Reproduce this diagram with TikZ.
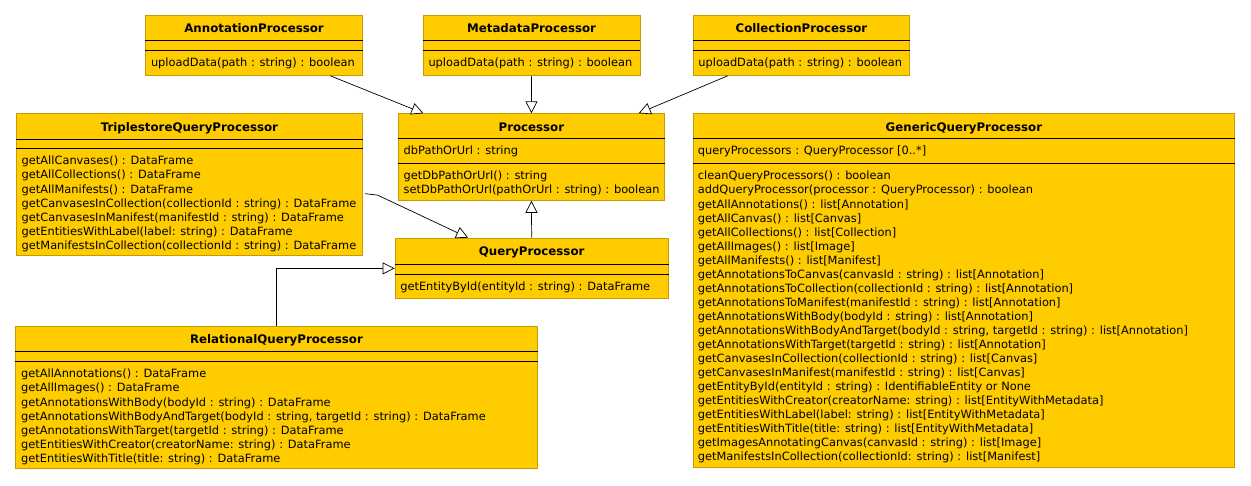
\documentclass[tikz,border=0pt]{standalone}
\usepackage{fontspec}
\setmainfont{DejaVu Sans}
\usetikzlibrary{arrows.meta,calc}
\definecolor{umlfill}{RGB}{255,204,0}
\definecolor{umledge}{RGB}{196,156,0}
\newcommand\umlsep[2]{\draw[sepline] ($(#1.north west)+(0,#2)$) -- ($(#1.north east)+(0,#2)$);}
\begin{document}
\begin{tikzpicture}[x=1pt,y=-1pt,
  cls/.style={draw=umledge, fill=umlfill, line width=0.8pt, inner sep=0pt, anchor=north west},
  sepline/.style={black, line width=0.8pt},
  ttl/.style={font=\fontsize{11.8}{14}\selectfont\bfseries, inner sep=0pt, anchor=base},
  txt/.style={font=\fontsize{11.4}{14.05}\selectfont, inner sep=0pt, anchor=north west, align=left},
  genarrow/.style={draw=black, line width=0.7pt, -{Triangle[fill=white,length=12pt,width=12pt]}}
]
\useasboundingbox[fill=white] (0,0) rectangle (1251,485);

% boxes
\node[cls, minimum width=216.7pt, minimum height=60pt] (ann) at (145.3,15) {};
\node[cls, minimum width=216.8pt, minimum height=60pt] (meta) at (422.8,15) {};
\node[cls, minimum width=216.6pt, minimum height=60pt] (coll) at (692.7,15) {};
\node[cls, minimum width=266pt, minimum height=86.7pt] (proc) at (398,113.3) {};
\node[cls, minimum width=346pt, minimum height=141.7pt] (trip) at (16,113.3) {};
\node[cls, minimum width=273.4pt, minimum height=60.6pt] (qp) at (394.6,237.7) {};
\node[cls, minimum width=521.4pt, minimum height=142.3pt] (rel) at (15.4,326) {};
\node[cls, minimum width=541.6pt, minimum height=353.4pt] (gen) at (692.7,113.3) {};

% separators
\umlsep{ann}{25.5}\umlsep{ann}{35}
\umlsep{meta}{25.5}\umlsep{meta}{35}
\umlsep{coll}{25.5}\umlsep{coll}{35}
\umlsep{proc}{25}\umlsep{proc}{50}
\umlsep{trip}{25.7}\umlsep{trip}{35}
\umlsep{qp}{26.5}\umlsep{qp}{36.3}
\umlsep{rel}{25.7}\umlsep{rel}{35.7}
\umlsep{gen}{25}\umlsep{gen}{50}

% titles
\node[ttl] (ann-t) at ($(ann.north)+(0,17.7)$) {AnnotationProcessor};
\node[ttl] (meta-t) at ($(meta.north)+(0,17.7)$) {MetadataProcessor};
\node[ttl] (coll-t) at ($(coll.north)+(0,17.7)$) {CollectionProcessor};
\node[ttl] (proc-t) at ($(proc.north)+(0,17.7)$) {Processor};
\node[ttl] (trip-t) at ($(trip.north)+(0,17.7)$) {TriplestoreQueryProcessor};
\node[ttl] (qp-t) at ($(qp.north)+(0,18.2)$) {QueryProcessor};
\node[ttl] (rel-t) at ($(rel.north)+(0,17.7)$) {RelationalQueryProcessor};
\node[ttl] (gen-t) at ($(gen.north)+(0,17.7)$) {GenericQueryProcessor};

% members
\node[txt] (ann-m) at ($(ann.north west)+(5.5,41.9)$) {\strut uploadData(path : string) : boolean};
\node[txt] (meta-m) at ($(meta.north west)+(5.5,41.9)$) {\strut uploadData(path : string) : boolean};
\node[txt] (coll-m) at ($(coll.north west)+(5.5,41.9)$) {\strut uploadData(path : string) : boolean};
\node[txt] (proc-a) at ($(proc.north west)+(5.5,31.6)$) {\strut dbPathOrUrl : string};
\node[txt] (proc-m) at ($(proc.north west)+(5.5,56.3)$) {\strut getDbPathOrUrl() : string\\
\strut setDbPathOrUrl(pathOrUrl : string) : boolean};
\node[txt] (trip-m) at ($(trip.north west)+(5.5,41.6)$) {\strut getAllCanvases() : DataFrame\\
\strut getAllCollections() : DataFrame\\
\strut getAllManifests() : DataFrame\\
\strut getCanvasesInCollection(collectionId : string) : DataFrame\\
\strut getCanvasesInManifest(manifestId : string) : DataFrame\\
\strut getEntitiesWithLabel(label: string) : DataFrame\\
\strut getManifestsInCollection(collectionId : string) : DataFrame};
\node[txt] (qp-m) at ($(qp.north west)+(5.5,42.9)$) {\strut getEntityById(entityId : string) : DataFrame};
\node[txt] (rel-m) at ($(rel.north west)+(5.5,41.9)$) {\strut getAllAnnotations() : DataFrame\\
\strut getAllImages() : DataFrame\\
\strut getAnnotationsWithBody(bodyId : string) : DataFrame\\
\strut getAnnotationsWithBodyAndTarget(bodyId : string, targetId : string) : DataFrame\\
\strut getAnnotationsWithTarget(targetId : string) : DataFrame\\
\strut getEntitiesWithCreator(creatorName: string) : DataFrame\\
\strut getEntitiesWithTitle(title: string) : DataFrame};
\node[txt] (gen-a) at ($(gen.north west)+(5,31.6)$) {\strut queryProcessors : QueryProcessor [0..*]};
\node[txt] (gen-m) at ($(gen.north west)+(5,56.6)$) {\strut cleanQueryProcessors() : boolean\\
\strut addQueryProcessor(processor : QueryProcessor) : boolean\\
\strut getAllAnnotations() : list[Annotation]\\
\strut getAllCanvas() : list[Canvas]\\
\strut getAllCollections() : list[Collection]\\
\strut getAllImages() : list[Image]\\
\strut getAllManifests() : list[Manifest]\\
\strut getAnnotationsToCanvas(canvasId : string) : list[Annotation]\\
\strut getAnnotationsToCollection(collectionId : string) : list[Annotation]\\
\strut getAnnotationsToManifest(manifestId : string) : list[Annotation]\\
\strut getAnnotationsWithBody(bodyId : string) : list[Annotation]\\
\strut getAnnotationsWithBodyAndTarget(bodyId : string, targetId : string) : list[Annotation]\\
\strut getAnnotationsWithTarget(targetId : string) : list[Annotation]\\
\strut getCanvasesInCollection(collectionId : string) : list[Canvas]\\
\strut getCanvasesInManifest(manifestId : string) : list[Canvas]\\
\strut getEntityById(entityId : string) : IdentifiableEntity or None\\
\strut getEntitiesWithCreator(creatorName: string) : list[EntityWithMetadata]\\
\strut getEntitiesWithLabel(label: string) : list[EntityWithMetadata]\\
\strut getEntitiesWithTitle(title: string) : list[EntityWithMetadata]\\
\strut getImagesAnnotatingCanvas(canvasId : string) : list[Image]\\
\strut getManifestsInCollection(collectionId: string) : list[Manifest]};

% generalisation connectors
\draw[genarrow] ([xshift=76.3pt]ann.south) -- ([xshift=-108pt]proc.north);
\draw[genarrow] (meta.south) -- (proc.north);
\draw[genarrow] ([xshift=-73.7pt]coll.south) -- ([xshift=107.3pt]proc.north);
\draw[genarrow] (qp.north) -- (proc.south);
\draw[genarrow] ([xshift=2.3pt,yshift=-9.15pt]trip.east) -- ++(12.4,1.4) -- ([xshift=-63.6pt]qp.north);
\draw[genarrow] (rel.north) |- (qp.west);
\end{tikzpicture}
\end{document}
